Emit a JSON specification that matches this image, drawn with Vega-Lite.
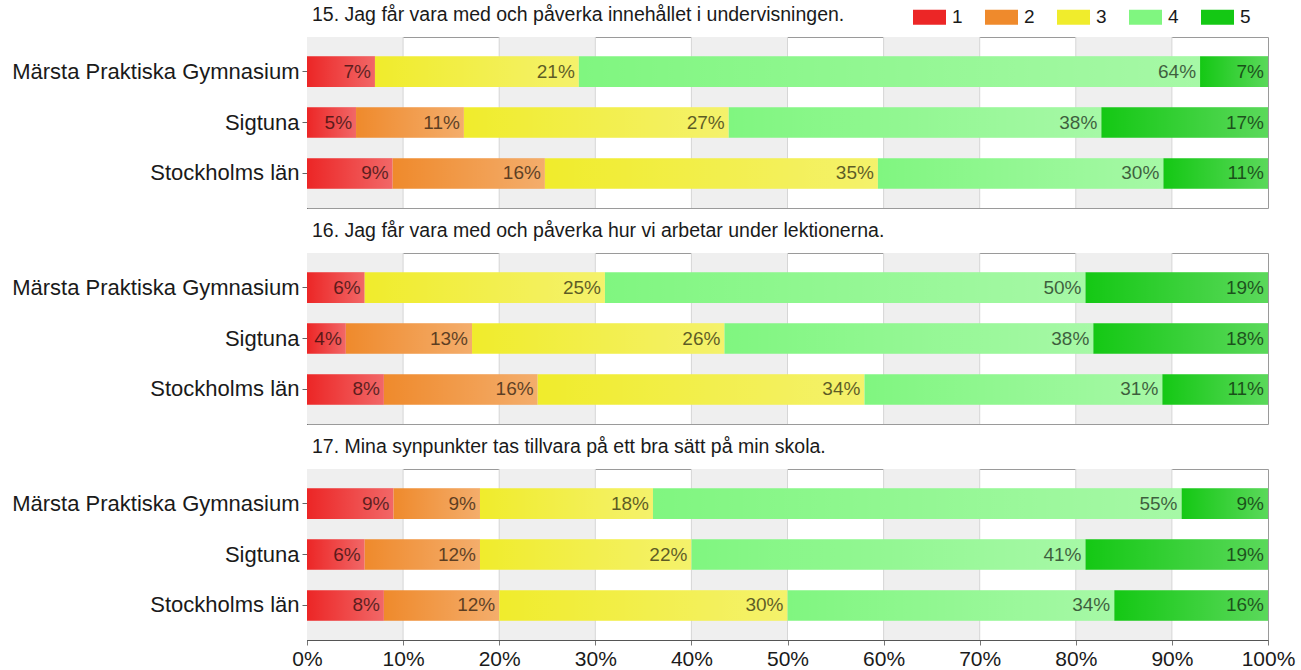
{
  "$schema": "https://vega.github.io/schema/vega-lite/v6.json",
  "background": "white",
  "padding": {"left": 5, "top": 0, "right": 5, "bottom": 5},
  "config": {
    "font": "Liberation Sans",
    "view": {"stroke": "#9a9a9a", "strokeWidth": 1},
    "concat": {"spacing": 11},
    "title": {"anchor": "start", "frame": "group", "fontSize": 19.5, "fontWeight": "normal", "color": "#1a1a1a", "offset": 11, "dx": 5, "baseline": "alphabetic"}
  },
  "datasets": {
    "bars": [
      {"q": "15", "loc": "Märsta Praktiska Gymnasium", "cat": "1", "v": 0.07},
      {"q": "15", "loc": "Märsta Praktiska Gymnasium", "cat": "3", "v": 0.21},
      {"q": "15", "loc": "Märsta Praktiska Gymnasium", "cat": "4", "v": 0.64},
      {"q": "15", "loc": "Märsta Praktiska Gymnasium", "cat": "5", "v": 0.07},
      {"q": "15", "loc": "Sigtuna", "cat": "1", "v": 0.05},
      {"q": "15", "loc": "Sigtuna", "cat": "2", "v": 0.11},
      {"q": "15", "loc": "Sigtuna", "cat": "3", "v": 0.27},
      {"q": "15", "loc": "Sigtuna", "cat": "4", "v": 0.38},
      {"q": "15", "loc": "Sigtuna", "cat": "5", "v": 0.17},
      {"q": "15", "loc": "Stockholms län", "cat": "1", "v": 0.09},
      {"q": "15", "loc": "Stockholms län", "cat": "2", "v": 0.16},
      {"q": "15", "loc": "Stockholms län", "cat": "3", "v": 0.35},
      {"q": "15", "loc": "Stockholms län", "cat": "4", "v": 0.30},
      {"q": "15", "loc": "Stockholms län", "cat": "5", "v": 0.11},
      {"q": "16", "loc": "Märsta Praktiska Gymnasium", "cat": "1", "v": 0.06},
      {"q": "16", "loc": "Märsta Praktiska Gymnasium", "cat": "3", "v": 0.25},
      {"q": "16", "loc": "Märsta Praktiska Gymnasium", "cat": "4", "v": 0.50},
      {"q": "16", "loc": "Märsta Praktiska Gymnasium", "cat": "5", "v": 0.19},
      {"q": "16", "loc": "Sigtuna", "cat": "1", "v": 0.04},
      {"q": "16", "loc": "Sigtuna", "cat": "2", "v": 0.13},
      {"q": "16", "loc": "Sigtuna", "cat": "3", "v": 0.26},
      {"q": "16", "loc": "Sigtuna", "cat": "4", "v": 0.38},
      {"q": "16", "loc": "Sigtuna", "cat": "5", "v": 0.18},
      {"q": "16", "loc": "Stockholms län", "cat": "1", "v": 0.08},
      {"q": "16", "loc": "Stockholms län", "cat": "2", "v": 0.16},
      {"q": "16", "loc": "Stockholms län", "cat": "3", "v": 0.34},
      {"q": "16", "loc": "Stockholms län", "cat": "4", "v": 0.31},
      {"q": "16", "loc": "Stockholms län", "cat": "5", "v": 0.11},
      {"q": "17", "loc": "Märsta Praktiska Gymnasium", "cat": "1", "v": 0.09},
      {"q": "17", "loc": "Märsta Praktiska Gymnasium", "cat": "2", "v": 0.09},
      {"q": "17", "loc": "Märsta Praktiska Gymnasium", "cat": "3", "v": 0.18},
      {"q": "17", "loc": "Märsta Praktiska Gymnasium", "cat": "4", "v": 0.55},
      {"q": "17", "loc": "Märsta Praktiska Gymnasium", "cat": "5", "v": 0.09},
      {"q": "17", "loc": "Sigtuna", "cat": "1", "v": 0.06},
      {"q": "17", "loc": "Sigtuna", "cat": "2", "v": 0.12},
      {"q": "17", "loc": "Sigtuna", "cat": "3", "v": 0.22},
      {"q": "17", "loc": "Sigtuna", "cat": "4", "v": 0.41},
      {"q": "17", "loc": "Sigtuna", "cat": "5", "v": 0.19},
      {"q": "17", "loc": "Stockholms län", "cat": "1", "v": 0.08},
      {"q": "17", "loc": "Stockholms län", "cat": "2", "v": 0.12},
      {"q": "17", "loc": "Stockholms län", "cat": "3", "v": 0.30},
      {"q": "17", "loc": "Stockholms län", "cat": "4", "v": 0.34},
      {"q": "17", "loc": "Stockholms län", "cat": "5", "v": 0.16}
    ],
    "bands": [
      {"a": 0.0, "b": 0.1},
      {"a": 0.2, "b": 0.3},
      {"a": 0.4, "b": 0.5},
      {"a": 0.6, "b": 0.7},
      {"a": 0.8, "b": 0.9}
    ],
    "grid": [
      {"g": 0.1}, {"g": 0.2}, {"g": 0.3}, {"g": 0.4}, {"g": 0.5},
      {"g": 0.6}, {"g": 0.7}, {"g": 0.8}, {"g": 0.9}
    ]
  },
  "vconcat": [
    {
      "width": 961, "height": 171,
      "title": "15. Jag får vara med och påverka innehållet i undervisningen.",
      "layer": [
        {"data": {"name": "bands"}, "mark": {"type": "rect", "fill": "#efefef"},
         "encoding": {"x": {"field": "a", "type": "quantitative", "scale": {"domain": [0, 1]}, "axis": null}, "x2": {"field": "b"}}},
        {"data": {"name": "grid"}, "mark": {"type": "rule", "color": "#d6d6d6", "strokeWidth": 1},
         "encoding": {"x": {"field": "g", "type": "quantitative", "axis": null}}},
        {"data": {"name": "bars"},
         "transform": [
           {"filter": "datum.q == '15'"},
           {"stack": "v", "groupby": ["loc"], "sort": [{"field": "cat", "order": "ascending"}], "offset": "normalize", "as": ["x0", "x1"]}
         ],
         "encoding": {"y": {"field": "loc", "type": "nominal", "sort": ["Märsta Praktiska Gymnasium", "Sigtuna", "Stockholms län"],
             "scale": {"paddingInner": 0.4, "paddingOuter": 0.38},
             "axis": {"title": null, "labelFontSize": 22, "labelColor": "#1a1a1a", "tickSize": 5, "tickColor": "#666", "domainColor": "#444", "labelPadding": 3, "minExtent": 301, "maxExtent": 301, "labelLimit": 300}}},
         "layer": [
           {"mark": {"type": "bar"},
            "encoding": {"x": {"field": "x0", "type": "quantitative", "axis": null}, "x2": {"field": "x1"},
              "color": {"field": "cat", "type": "nominal", "scale": {"domain": ["1", "2", "3", "4", "5"], "range": ["#ec2626", "#ef8a2c", "#f0ec2c", "#80f680", "#14c814"]},
                "legend": {"title": null, "orient": "none", "legendX": 606, "legendY": -36.5, "direction": "horizontal", "symbolType": "M-1,-0.45H1V0.45H-1Z", "symbolSize": 1089, "symbolStrokeWidth": 0, "symbolOpacity": 1, "labelFontSize": 19, "labelOffset": 6, "columnPadding": 22, "labelColor": "#1a1a1a"}}}},
           {"mark": {"type": "bar", "fill": {"gradient": "linear", "x1": 0, "x2": 1, "y1": 0, "y2": 0, "stops": [{"offset": 0, "color": "rgba(255,255,255,0)"}, {"offset": 1, "color": "rgba(255,255,255,0.3)"}]}},
            "encoding": {"x": {"field": "x0", "type": "quantitative", "axis": null}, "x2": {"field": "x1"}}},
           {"mark": {"type": "text", "align": "right", "baseline": "middle", "dx": -4, "fontSize": 19, "color": "#000", "opacity": 0.62},
            "encoding": {"x": {"field": "x1", "type": "quantitative", "axis": null}, "text": {"field": "v", "type": "quantitative", "format": ".0%"}}}
         ]}
      ]
    },
    {
      "width": 961, "height": 171,
      "title": "16. Jag får vara med och påverka hur vi arbetar under lektionerna.",
      "layer": [
        {"data": {"name": "bands"}, "mark": {"type": "rect", "fill": "#efefef"},
         "encoding": {"x": {"field": "a", "type": "quantitative", "scale": {"domain": [0, 1]}, "axis": null}, "x2": {"field": "b"}}},
        {"data": {"name": "grid"}, "mark": {"type": "rule", "color": "#d6d6d6", "strokeWidth": 1},
         "encoding": {"x": {"field": "g", "type": "quantitative", "axis": null}}},
        {"data": {"name": "bars"},
         "transform": [
           {"filter": "datum.q == '16'"},
           {"stack": "v", "groupby": ["loc"], "sort": [{"field": "cat", "order": "ascending"}], "offset": "normalize", "as": ["x0", "x1"]}
         ],
         "encoding": {"y": {"field": "loc", "type": "nominal", "sort": ["Märsta Praktiska Gymnasium", "Sigtuna", "Stockholms län"],
             "scale": {"paddingInner": 0.4, "paddingOuter": 0.38},
             "axis": {"title": null, "labelFontSize": 22, "labelColor": "#1a1a1a", "tickSize": 5, "tickColor": "#666", "domainColor": "#444", "labelPadding": 3, "minExtent": 301, "maxExtent": 301, "labelLimit": 300}}},
         "layer": [
           {"mark": {"type": "bar"},
            "encoding": {"x": {"field": "x0", "type": "quantitative", "axis": null}, "x2": {"field": "x1"},
              "color": {"field": "cat", "type": "nominal", "scale": {"domain": ["1", "2", "3", "4", "5"], "range": ["#ec2626", "#ef8a2c", "#f0ec2c", "#80f680", "#14c814"]},
                "legend": {"title": null, "orient": "none", "legendX": 606, "legendY": -36.5, "direction": "horizontal", "symbolType": "M-1,-0.45H1V0.45H-1Z", "symbolSize": 1089, "symbolStrokeWidth": 0, "symbolOpacity": 1, "labelFontSize": 19, "labelOffset": 6, "columnPadding": 22, "labelColor": "#1a1a1a"}}}},
           {"mark": {"type": "bar", "fill": {"gradient": "linear", "x1": 0, "x2": 1, "y1": 0, "y2": 0, "stops": [{"offset": 0, "color": "rgba(255,255,255,0)"}, {"offset": 1, "color": "rgba(255,255,255,0.3)"}]}},
            "encoding": {"x": {"field": "x0", "type": "quantitative", "axis": null}, "x2": {"field": "x1"}}},
           {"mark": {"type": "text", "align": "right", "baseline": "middle", "dx": -4, "fontSize": 19, "color": "#000", "opacity": 0.62},
            "encoding": {"x": {"field": "x1", "type": "quantitative", "axis": null}, "text": {"field": "v", "type": "quantitative", "format": ".0%"}}}
         ]}
      ]
    },
    {
      "width": 961, "height": 171,
      "title": "17. Mina synpunkter tas tillvara på ett bra sätt på min skola.",
      "layer": [
        {"data": {"name": "bands"}, "mark": {"type": "rect", "fill": "#efefef"},
         "encoding": {"x": {"field": "a", "type": "quantitative", "scale": {"domain": [0, 1]},
           "axis": {"title": null, "values": [0, 0.1, 0.2, 0.3, 0.4, 0.5, 0.6, 0.7, 0.8, 0.9, 1], "format": ".0%", "labelFontSize": 21, "labelColor": "#1a1a1a", "grid": false, "domainColor": "#555", "tickColor": "#777", "tickSize": 5, "labelPadding": 3, "labelFlush": false}}, "x2": {"field": "b"}}},
        {"data": {"name": "grid"}, "mark": {"type": "rule", "color": "#d6d6d6", "strokeWidth": 1},
         "encoding": {"x": {"field": "g", "type": "quantitative",
           "axis": {"title": null, "values": [0, 0.1, 0.2, 0.3, 0.4, 0.5, 0.6, 0.7, 0.8, 0.9, 1], "format": ".0%", "labelFontSize": 21, "labelColor": "#1a1a1a", "grid": false, "domainColor": "#555", "tickColor": "#777", "tickSize": 5, "labelPadding": 3, "labelFlush": false}}}},
        {"data": {"name": "bars"},
         "transform": [
           {"filter": "datum.q == '17'"},
           {"stack": "v", "groupby": ["loc"], "sort": [{"field": "cat", "order": "ascending"}], "offset": "normalize", "as": ["x0", "x1"]}
         ],
         "encoding": {"y": {"field": "loc", "type": "nominal", "sort": ["Märsta Praktiska Gymnasium", "Sigtuna", "Stockholms län"],
             "scale": {"paddingInner": 0.4, "paddingOuter": 0.38},
             "axis": {"title": null, "labelFontSize": 22, "labelColor": "#1a1a1a", "tickSize": 5, "tickColor": "#666", "domainColor": "#444", "labelPadding": 3, "minExtent": 301, "maxExtent": 301, "labelLimit": 300}}},
         "layer": [
           {"mark": {"type": "bar"},
            "encoding": {"x": {"field": "x0", "type": "quantitative",
              "axis": {"title": null, "values": [0, 0.1, 0.2, 0.3, 0.4, 0.5, 0.6, 0.7, 0.8, 0.9, 1], "format": ".0%", "labelFontSize": 21, "labelColor": "#1a1a1a", "grid": false, "domainColor": "#555", "tickColor": "#777", "tickSize": 5, "labelPadding": 3, "labelFlush": false}}, "x2": {"field": "x1"},
              "color": {"field": "cat", "type": "nominal", "scale": {"domain": ["1", "2", "3", "4", "5"], "range": ["#ec2626", "#ef8a2c", "#f0ec2c", "#80f680", "#14c814"]},
                "legend": {"title": null, "orient": "none", "legendX": 606, "legendY": -36.5, "direction": "horizontal", "symbolType": "M-1,-0.45H1V0.45H-1Z", "symbolSize": 1089, "symbolStrokeWidth": 0, "symbolOpacity": 1, "labelFontSize": 19, "labelOffset": 6, "columnPadding": 22, "labelColor": "#1a1a1a"}}}},
           {"mark": {"type": "bar", "fill": {"gradient": "linear", "x1": 0, "x2": 1, "y1": 0, "y2": 0, "stops": [{"offset": 0, "color": "rgba(255,255,255,0)"}, {"offset": 1, "color": "rgba(255,255,255,0.3)"}]}},
            "encoding": {"x": {"field": "x0", "type": "quantitative",
              "axis": {"title": null, "values": [0, 0.1, 0.2, 0.3, 0.4, 0.5, 0.6, 0.7, 0.8, 0.9, 1], "format": ".0%", "labelFontSize": 21, "labelColor": "#1a1a1a", "grid": false, "domainColor": "#555", "tickColor": "#777", "tickSize": 5, "labelPadding": 3, "labelFlush": false}}, "x2": {"field": "x1"}}},
           {"mark": {"type": "text", "align": "right", "baseline": "middle", "dx": -4, "fontSize": 19, "color": "#000", "opacity": 0.62},
            "encoding": {"x": {"field": "x1", "type": "quantitative",
              "axis": {"title": null, "values": [0, 0.1, 0.2, 0.3, 0.4, 0.5, 0.6, 0.7, 0.8, 0.9, 1], "format": ".0%", "labelFontSize": 21, "labelColor": "#1a1a1a", "grid": false, "domainColor": "#555", "tickColor": "#777", "tickSize": 5, "labelPadding": 3, "labelFlush": false}}, "text": {"field": "v", "type": "quantitative", "format": ".0%"}}}
         ]}
      ]
    }
  ]
}
